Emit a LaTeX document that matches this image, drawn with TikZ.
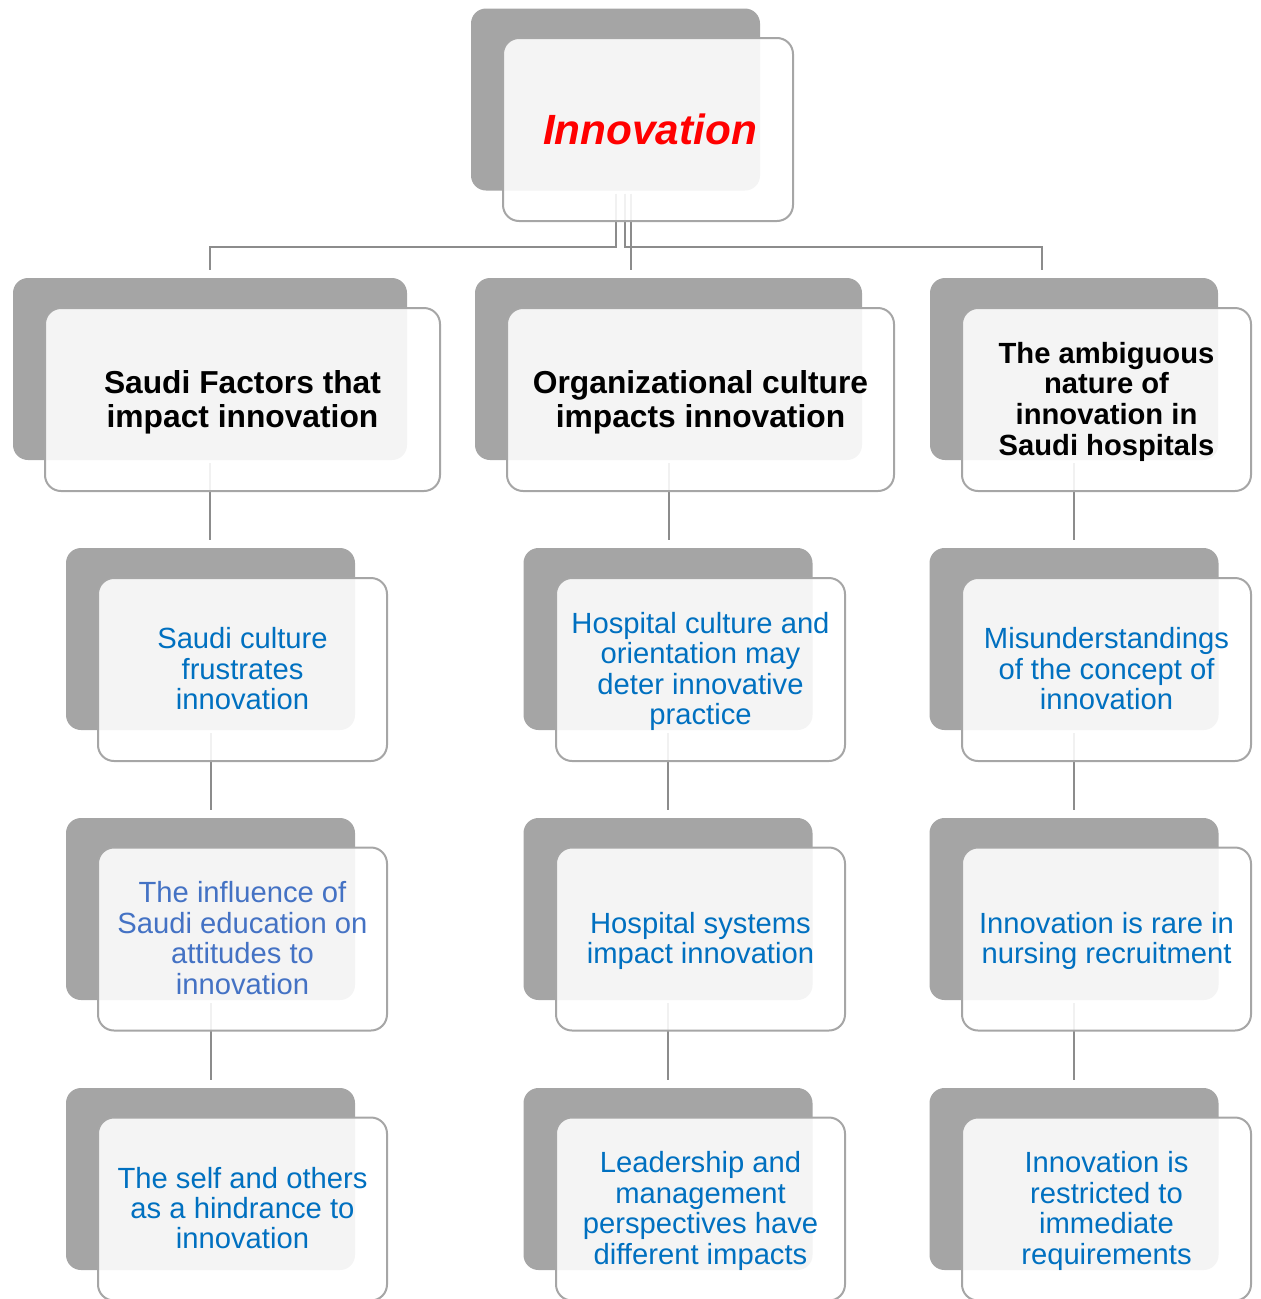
\documentclass[tikz,border=0pt]{standalone}
\usepackage{fontspec}
\setmainfont{Liberation Sans}
\usetikzlibrary{calc}
\definecolor{backgray}{HTML}{A5A5A5}
\definecolor{bordergray}{HTML}{A6A6A6}
\definecolor{conngray}{HTML}{8C8C8C}
\definecolor{txtblue}{HTML}{0070C0}
\definecolor{txtbluetwo}{HTML}{4472C4}
\definecolor{txtred}{HTML}{FF0000}
\begin{document}
\begin{tikzpicture}[x=1pt,y=-1pt,
  backbox/.style={rectangle, rounded corners=15pt, fill=backgray, draw=none, inner sep=0pt, outer sep=0pt, minimum width=289pt, minimum height=182pt},
  frontbox/.style={rectangle, rounded corners=16pt, fill=white, fill opacity=0.88, text opacity=1, draw=bordergray, line width=2pt, inner sep=0pt, outer sep=0pt, align=center, minimum width=289pt, minimum height=183pt},
  conn/.style={draw=conngray, line width=2pt, shorten <=3pt, shorten >=8pt},
  bluetxt/.style={text=txtblue, text depth=2pt, font=\fontsize{29.2}{30.4}\selectfont},
  bigbold/.style={text=black, text depth=2pt, font=\fontsize{31.75}{34}\selectfont\bfseries},
  smallbold/.style={text=black, text depth=2pt, font=\fontsize{29.2}{30.7}\selectfont\bfseries},
  toptxt/.style={text=txtred, font=\fontsize{42.3}{48}\selectfont\bfseries\itshape}]
\useasboundingbox (0,0) rectangle (1261,1299);
% back boxes
\node[backbox] (b0) at (615.5,99.5) {};
\node[backbox, minimum width=394pt] (b1l) at (210,369) {};
\node[backbox, minimum width=387pt] (b1m) at (668.5,369) {};
\node[backbox, minimum width=288pt] (b1r) at (1074,369) {};
\node[backbox] (b2l) at (210.5,639) {};
\node[backbox] (b2m) at (668,639) {};
\node[backbox] (b2r) at (1074,639) {};
\node[backbox] (b3l) at (210.5,909) {};
\node[backbox] (b3m) at (668,909) {};
\node[backbox] (b3r) at (1074,909) {};
\node[backbox] (b4l) at (210.5,1179) {};
\node[backbox] (b4m) at (668,1179) {};
\node[backbox] (b4r) at (1074,1179) {};
% connectors
\draw[conn] (b0.south) -- ++(0,56) -| (b1l.north);
\draw[conn] ([xshift=9.5pt]b0.south) -- ++(0,56) -| ([xshift=-32pt]b1r.north);
\draw[conn] ([xshift=15pt]b0.south) -- ([xshift=-38pt]b1m.north);
\foreach \c in {l,m,r}{
  \draw[conn] (b1\c.south) -- (b1\c.south |- b2\c.north);
  \draw[conn] (b2\c.south) -- (b2\c.south |- b3\c.north);
  \draw[conn] (b3\c.south) -- (b3\c.south |- b4\c.north);
}
% front boxes
\node[frontbox, minimum width=290pt, toptxt] (f0) at (648,129.5) {\hspace*{4pt}Innovation};
\node[frontbox, minimum width=395pt, bigbold] (f1l) at (242.5,399.5) {Saudi Factors that\\impact innovation};
\node[frontbox, minimum width=387pt, bigbold] (f1m) at (700.5,399.5) {Organizational culture\\impacts innovation};
\node[frontbox, smallbold] (f1r) at (1106.5,399.5) {The ambiguous\\nature of\\innovation in\\Saudi hospitals};
\node[frontbox, bluetxt] (f2l) at (242.5,669.5) {Saudi culture\\frustrates\\innovation};
\node[frontbox, bluetxt] (f2m) at (700.5,669.5) {Hospital culture and\\orientation may\\deter innovative\\practice};
\node[frontbox, bluetxt] (f2r) at (1106.5,669.5) {Misunderstandings\\of the concept of\\innovation};
\node[frontbox, bluetxt, text=txtbluetwo] (f3l) at (242.5,939) {The influence of\\Saudi education on\\attitudes to\\innovation};
\node[frontbox, bluetxt] (f3m) at (700.5,939) {Hospital systems\\impact innovation};
\node[frontbox, bluetxt] (f3r) at (1106.5,939) {Innovation is rare in\\nursing recruitment};
\node[frontbox, bluetxt] (f4l) at (242.5,1209) {The self and others\\as a hindrance to\\innovation};
\node[frontbox, bluetxt] (f4m) at (700.5,1209) {Leadership and\\management\\perspectives have\\different impacts};
\node[frontbox, bluetxt] (f4r) at (1106.5,1209) {Innovation is\\restricted to\\immediate\\requirements};
\end{tikzpicture}
\end{document}
